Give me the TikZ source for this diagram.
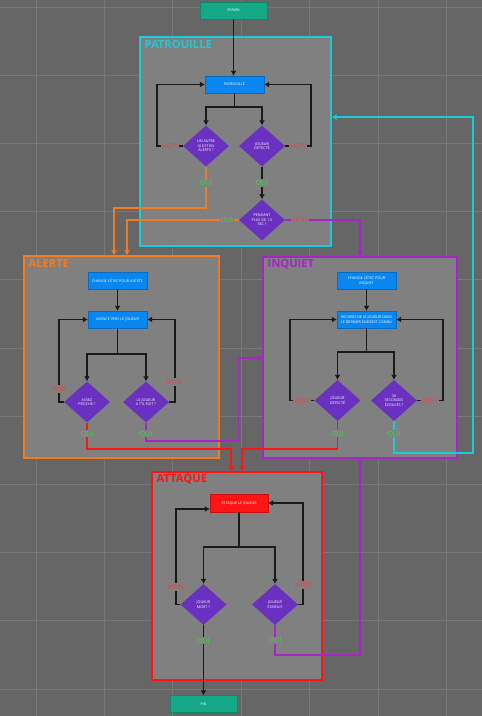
\documentclass[tikz,border=0pt]{standalone}
\usepackage{fontspec}
\setmainfont{Open Sans}
\usetikzlibrary{shapes.geometric,arrows.meta}
\definecolor{bgc}{HTML}{666666}
\definecolor{gridc}{HTML}{787878}
\definecolor{grpc}{HTML}{808080}
\definecolor{cyanc}{HTML}{1CCAD8}
\definecolor{orangec}{HTML}{F47A1E}
\definecolor{purplec}{HTML}{A526C4}
\definecolor{redc}{HTML}{FF1414}
\definecolor{ouic}{HTML}{36DC3A}
\definecolor{nonc}{HTML}{E54545}
\definecolor{diac}{HTML}{6A30C0}
\definecolor{procc}{HTML}{0A86F0}
\definecolor{termc}{HTML}{14A886}
\definecolor{linec}{HTML}{1A1A1A}
\tikzset{
  tiny/.style={font=\fontsize{3.7}{4.5}\selectfont, text=white, align=center},
  grp/.style={draw, line width=1.3pt, fill=grpc, inner sep=0pt},
  grptitle/.style={anchor=base west, font=\fontsize{11.2}{12}\selectfont\bfseries, inner sep=0pt},
  proc/.style={tiny, fill=procc, draw=procc!80!black, line width=0.4pt, minimum width=59pt, minimum height=17pt, inner sep=0pt},
  attbox/.style={tiny, fill=redc, draw=redc!80!black, line width=0.4pt, minimum width=58pt, minimum height=18pt, inner sep=0pt},
  term/.style={tiny, fill=termc, draw=termc!80!black, line width=0.4pt, minimum width=67pt, minimum height=17pt, inner sep=0pt},
  dia/.style={tiny, diamond, fill=diac, minimum width=46pt, minimum height=41pt, inner sep=0pt},
  conn/.style={draw=linec, line width=1.7pt, -{Latex[length=5pt,width=6pt]}},
  plain/.style={draw=linec, line width=1.7pt},
  oconn/.style={draw=orangec, line width=1.7pt, -{Latex[length=5pt,width=6pt]}},
  pconn/.style={draw=purplec, line width=1.7pt, -{Latex[length=5pt,width=6pt]}},
  rconn/.style={draw=redc, line width=1.7pt, -{Latex[length=5pt,width=6pt]}},
  cconn/.style={draw=cyanc, line width=1.7pt, -{Latex[length=5pt,width=6pt]}},
  oui/.style={font=\fontsize{7}{8}\selectfont, text=ouic, fill=grpc, inner sep=1pt},
  non/.style={font=\fontsize{7}{8}\selectfont, text=nonc, fill=grpc, inner sep=1pt},
}
\begin{document}
\begin{tikzpicture}[x=1pt,y=-1pt]
\useasboundingbox (0,0) rectangle (482,716);
\fill[bgc] (0,0) rectangle (482,716);
% grid
\foreach \gx in {36,104.4,172.8,241.2,309.6,378,446.4}
  \draw[gridc, line width=0.9pt] (\gx,0) -- (\gx,716);
\foreach \gy in {7,75.2,143.4,211.6,279.8,348,416.2,484.4,552.6,620.8,689}
  \draw[gridc, line width=0.9pt] (0,\gy) -- (482,\gy);

% groups
\node[grp, draw=cyanc, minimum width=191pt, minimum height=209pt] (gpat) at (235.5,141.5) {};
\node[grp, draw=orangec, minimum width=195pt, minimum height=202pt] (gal) at (121.5,357) {};
\node[grp, draw=purplec, minimum width=194pt, minimum height=201pt] (ginq) at (360,357.5) {};
\node[grp, draw=redc, minimum width=170pt, minimum height=208pt] (gatt) at (237,576) {};
\node[grptitle, text=cyanc] (tpat) at ([shift={(5pt,-12pt)}]gpat.north west) {PATROUILLE};
\node[grptitle, text=orangec] (tal) at ([shift={(5pt,-12pt)}]gal.north west) {ALERTE};
\node[grptitle, text=purplec] (tinq) at ([shift={(5pt,-11pt)}]ginq.north west) {INQUIET};
\node[grptitle, text=redc] (tatt) at ([shift={(5pt,-11pt)}]gatt.north west) {ATTAQUE};

% PATROUILLE
\node[term] (spawn) at (233.5,10.5) {SPAWN};
\node[proc] (pat) at (234.5,84.5) {PATROUILLE};
\node[dia] (dA) at (206,146) {UN AUTRE\\AI EST EN\\ALERTE ?};
\node[dia] (dB) at (262,146) {JOUEUR\\DETECTÉ};
\node[dia] (dC) at (262,220) {PENDANT\\PLUS DE 1.5\\SEC ?};

% ALERTE
\node[proc] (a1) at (117.5,280.5) {CHANGE L'ÉTAT POUR ALERTE};
\node[proc] (a2) at (117.5,319.5) {AVANCE VERS LE JOUEUR};
\node[dia] (dA1) at (87,402) {ASSEZ\\PROCHE ?};
\node[dia] (dA2) at (146,402) {LE JOUEUR\\A T'IL FUIT ?};

% INQUIET
\node[proc] (i1) at (366.5,280.5) {CHANGE L'ÉTAT POUR\\INQUIET};
\node[proc] (i2) at (366.5,319.5) {RECHERCHE LE JOUEUR DANS\\LE DERNIER ENDROIT CONNU};
\node[dia] (dI1) at (337.5,400.5) {JOUEUR\\DETECTÉ};
\node[dia] (dI2) at (394,400.5) {30\\SECONDES\\ÉCOULÉS ?};

% ATTAQUE
\node[attbox] (t1) at (239,503) {ATTAQUE LE JOUEUR};
\node[dia] (dT1) at (203.5,604.5) {JOUEUR\\MORT ?};
\node[dia] (dT2) at (275,604.5) {JOUEUR\\S'ENFUIT};
\node[term] (fin) at (203.5,704) {FIN};

% ---- connectors PATROUILLE
\draw[conn] (spawn.south) -- (spawn.south |- pat.north);
\draw[plain] (pat.south) -- ++(0,14) coordinate (pj);
\draw[conn] (pj) -| (dA.north);
\draw[conn] (pj) -| (dB.north);
\draw[conn] (dA.west) -- node[non] (nA) {NON} ++(-26,0) |- (pat.west);
\draw[conn] (dB.east) -- node[non] (nB) {NON} ++(26,0) |- (pat.east);
\draw[conn] (dB.south) -- node[oui] (oB) {OUI} (dC.north);
\draw[oconn] (dA.south) -- node[oui, pos=0.4] (oA) {OUI} ++(0,41) -| ([xshift=-7.5pt]gal.north);
\draw[oconn] (dC.west) -- node[oui] (oC) {OUI} ++(-24,0) -| ([xshift=5.5pt]gal.north);
\draw[pconn] (dC.east) -- node[non] (nC) {NON} ++(30,0) -| (ginq.north);

% ---- connectors ALERTE
\draw[conn] (a1) -- (a2);
\draw[plain] (a2.south) -- ++(0,26) coordinate (aj);
\draw[conn] (aj) -| (dA1.north);
\draw[conn] (aj) -| (dA2.north);
\draw[conn] (dA1.west) -- ++(-5,0) |- (a2.west);
\node[non] (nA1) at (59,389) {NON};
\draw[conn] (dA2.east) -- ++(6,0) |- (a2.east);
\node[non] (nA2) at (174,382) {NON};
\draw[rconn] (dA1.south) -- node[oui, pos=0.42] (oA1) {OUI} ++(0,26) -| ([xshift=-6pt]gatt.north);
\coordinate (pc) at (238.5,358);
\draw[pconn] (dA2.south) -- node[oui, pos=0.6] (oA2) {OUI} ++(0,18) -| (pc) -- (pc -| ginq.west);

% ---- connectors INQUIET
\draw[conn] (i1) -- (i2);
\draw[plain] (i2.south) -- ++(0,24) coordinate (ij);
\draw[conn] (ij) -| (dI1.north);
\draw[conn] (ij) -| (dI2.north);
\draw[conn] (dI1.west) -- node[non] (nI1) {NON} ++(-24,0) |- (i2.west);
\draw[conn] (dI2.east) -- node[non] (nI2) {NON} ++(26,0) |- (i2.east);
\draw[rconn] (dI1.south) -- node[oui, pos=0.45] (oI1) {OUI} ++(0,27.5) -| ([xshift=5pt]gatt.north);
\coordinate (cy) at (473,117);
\draw[cconn] (dI2.south) -- node[oui, pos=0.4] (oI2) {OUI} ++(0,31.5) -| (cy) -- (cy -| gpat.east);

% ---- connectors ATTAQUE
\draw[plain] (t1.south) -- ++(0,35) coordinate (tj);
\draw[conn] (tj) -| (dT1.north);
\draw[conn] (tj) -| (dT2.north);
\draw[conn] (dT1.west) -- ++(-4.5,0) |- ([yshift=-6pt]t1.west);
\node[non] (nT1) at (176,587) {NON};
\draw[conn] (dT2.east) -- ++(5,0) |- (t1.east);
\node[non] (nT2) at (303,585) {NON};
\draw[conn] (dT1.south) -- node[oui, pos=0.22] (oT1) {OUI} (fin.north);
\draw[pconn] (dT2.south) -- node[oui, pos=0.5] (oT2) {OUI} ++(0,30) -| (ginq.south);
\end{tikzpicture}
\end{document}
